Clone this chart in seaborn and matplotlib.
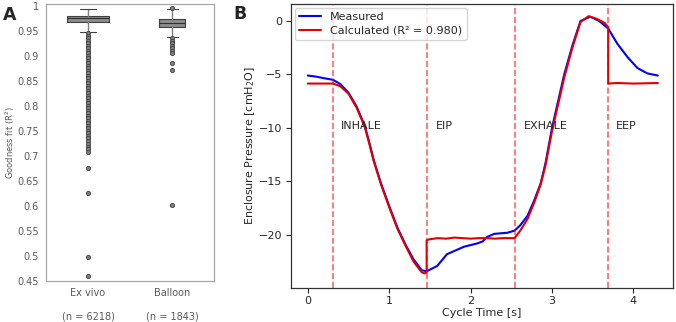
import numpy as np
import pandas as pd
import matplotlib
matplotlib.use("Agg")
from pylab import plt
import seaborn as sns

# ---- panel A: goodness of fit summaries ----
groups = ["Ex vivo", "Balloon"]
group_n = [6218, 1843]
box_q1 = [0.968, 0.958]
box_med = [0.975, 0.966]
box_q3 = [0.980, 0.973]
whisk_lo = [0.948, 0.938]
whisk_hi = [0.993, 0.993]
fliers_exvivo = [0.945, 0.940, 0.935, 0.930, 0.925, 0.920, 0.915, 0.910, 0.905,
                 0.900, 0.895, 0.890, 0.885, 0.880, 0.875, 0.870, 0.865, 0.860,
                 0.855, 0.850, 0.845, 0.840, 0.835, 0.830, 0.825, 0.820, 0.815,
                 0.810, 0.805, 0.800, 0.795, 0.790, 0.785, 0.780, 0.775, 0.770,
                 0.765, 0.760, 0.755, 0.750, 0.745, 0.740, 0.735, 0.730, 0.724,
                 0.718, 0.713, 0.708, 0.676, 0.626, 0.498, 0.460]
fliers_balloon = [0.995, 0.935, 0.930, 0.925, 0.920, 0.915, 0.910, 0.905,
                  0.886, 0.872, 0.602]

# ---- panel B: enclosure pressure over one cycle ----
t_meas = [0.0, 0.1, 0.2, 0.31, 0.4, 0.5, 0.6, 0.7, 0.75, 0.81, 0.9, 1.0, 1.1,
          1.2, 1.3, 1.4, 1.46, 1.59, 1.71, 1.92, 2.08, 2.15, 2.2, 2.29, 2.45,
          2.54, 2.61, 2.7, 2.78, 2.86, 2.92, 3.0, 3.15, 3.25, 3.35, 3.47, 3.58,
          3.69, 3.8, 3.93, 4.05, 4.17, 4.3]
p_meas = [-5.1, -5.2, -5.35, -5.5, -5.9, -6.7, -8.0, -9.8, -11.2, -13.0, -15.2,
          -17.3, -19.3, -20.9, -22.3, -23.3, -23.4, -22.9, -21.8, -21.1, -20.8,
          -20.6, -20.2, -19.9, -19.8, -19.6, -19.1, -18.2, -16.8, -15.2, -13.3,
          -10.0, -5.0, -2.3, 0.0, 0.4, 0.0, -0.7, -2.1, -3.4, -4.4, -4.9, -5.1]
t_calc = [0.0, 0.31, 0.4, 0.5, 0.6, 0.7, 0.75, 0.81, 0.9, 1.0, 1.1, 1.2, 1.3,
          1.4, 1.44, 1.46, 1.46, 1.5, 1.6, 1.7, 1.8, 1.9, 2.0, 2.1, 2.2, 2.3,
          2.4, 2.54, 2.61, 2.7, 2.78, 2.86, 2.92, 3.0, 3.15, 3.25, 3.35, 3.45,
          3.55, 3.65, 3.69, 3.69, 3.8, 4.0, 4.3]
p_calc = [-5.85, -5.85, -6.1, -6.8, -8.1, -9.9, -11.3, -13.1, -15.3, -17.4,
          -19.4, -21.0, -22.5, -23.5, -23.6, -23.5, -20.5, -20.4, -20.3, -20.35,
          -20.25, -20.3, -20.35, -20.3, -20.3, -20.35, -20.3, -20.3, -19.6,
          -18.5, -17.0, -15.3, -13.5, -10.3, -5.3, -2.5, -0.1, 0.45, 0.2, -0.2,
          -0.6, -5.85, -5.8, -5.85, -5.8]
phase_bounds = [0.31, 1.46, 2.54, 3.69]
phase_names = ["INHALE", "EIP", "EXHALE", "EEP"]
phase_text_x = [0.41, 1.57, 2.65, 3.79]

sns.set_style("white")
plt.rcParams["font.family"] = ["DejaVu Sans"]

fig = plt.figure(figsize=(6.76, 3.22), dpi=100)

# ------------------------------- A ------------------------------- #
ax = fig.add_axes([0.068, 0.127, 0.249, 0.861])

stats = []
for i, g in enumerate(groups):
    stats.append({
        "label": "{}\n\n(n = {})".format(g, group_n[i]),
        "q1": box_q1[i], "med": box_med[i], "q3": box_q3[i],
        "whislo": whisk_lo[i], "whishi": whisk_hi[i],
        "fliers": np.array(fliers_exvivo if i == 0 else fliers_balloon),
    })

ax.bxp(stats, positions=[0, 1], widths=[0.49, 0.31], patch_artist=True,
       boxprops=dict(facecolor="#8c8c8c", edgecolor="#404040", lw=0.8),
       medianprops=dict(color="#303030", lw=0.8),
       whiskerprops=dict(color="#7f7f7f", lw=1.0),
       capprops=dict(color="#404040", lw=0.8),
       capwidths=[0.2, 0.13],
       flierprops=dict(marker="o", markersize=3.0, markerfacecolor="#808080",
                       markeredgecolor="#404040", markeredgewidth=0.6))

ax.set_xlim(-0.5, 1.5)
ax.set_ylim(0.45, 1.004)
ax.set_yticks([0.45, 0.5, 0.55, 0.6, 0.65, 0.7, 0.75, 0.8, 0.85, 0.9, 0.95, 1.0])
ax.set_yticklabels(["0.45", "0.5", "0.55", "0.6", "0.65", "0.7", "0.75",
                    "0.8", "0.85", "0.9", "0.95", "1"])
ax.tick_params(axis="both", length=0, labelsize=7, colors="#595959", pad=5)
ax.set_ylabel("Goodness fit (R$^2$)", fontsize=6, color="#595959")
ax.yaxis.set_label_coords(-0.17, 0.5)
for s in ax.spines.values():
    s.set_color("#a6a6a6")
    s.set_linewidth(0.9)
fig.text(0.004, 0.982, "A", fontsize=12.5, fontweight="bold", va="top")

# ------------------------------- B ------------------------------- #
bx = fig.add_axes([0.430, 0.106, 0.566, 0.882])

df_meas = pd.DataFrame({"t": t_meas, "p": p_meas})
df_calc = pd.DataFrame({"t": t_calc, "p": p_calc})
sns.lineplot(data=df_meas, x="t", y="p", ax=bx, color="blue", lw=1.5,
             sort=False, estimator=None, label="Measured")
sns.lineplot(data=df_calc, x="t", y="p", ax=bx, color="#e00000", lw=1.5,
             sort=False, estimator=None, label="Calculated (R\u00b2 = 0.980)")

for xb in phase_bounds:
    bx.axvline(xb, color="red", ls="--", lw=1.2, alpha=0.6)
for xt, name in zip(phase_text_x, phase_names):
    bx.text(xt, -9.8, name, fontsize=8, va="center", ha="left")

bx.set_xlim(-0.21, 4.49)
bx.set_ylim(-24.95, 1.6)
bx.set_xticks([0, 1, 2, 3, 4])
bx.set_yticks([0, -5, -10, -15, -20])
bx.tick_params(axis="both", labelsize=8, length=3.5, width=0.8, pad=2.5,
               direction="out", bottom=True, left=True)
bx.set_xlabel("Cycle Time [s]", fontsize=8, labelpad=1)
bx.set_ylabel("Enclosure Pressure [cmH$_2$O]", fontsize=8, labelpad=1)
for s in bx.spines.values():
    s.set_color("#333333")
    s.set_linewidth(0.9)
bx.legend(loc="upper left", fontsize=8, frameon=True, handlelength=2,
          borderaxespad=0.35, labelspacing=0.3)
fig.text(0.345, 0.985, "B", fontsize=12.5, fontweight="bold", va="top")

plt.savefig("out.png", dpi=100)
